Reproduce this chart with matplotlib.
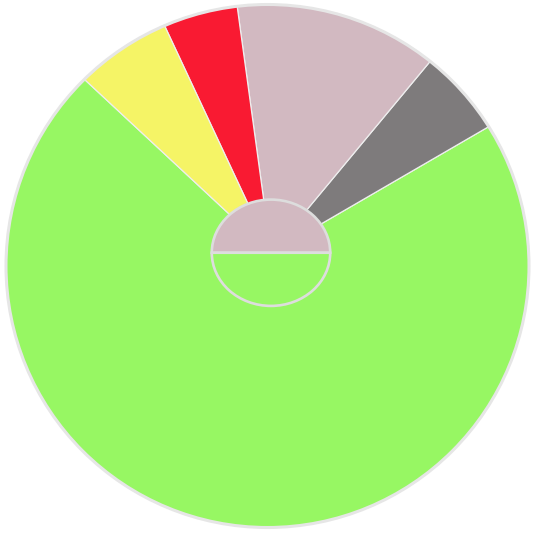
import matplotlib
matplotlib.use("Agg")
import matplotlib.pyplot as plt
from matplotlib.patches import Circle

# Outer ring: shares in percent, listed counter-clockwise starting at the green slice
outer_labels = ["green", "gray", "pink", "red", "yellow"]
outer_values = [70.3, 5.6, 13.2, 4.8, 6.1]
outer_colors = ["#97F763", "#7E7B7C", "#D2B9C1", "#F91A32", "#F5F466"]

# Inner disc: two halves
inner_labels = ["pink", "green"]
inner_values = [50, 50]
inner_colors = ["#D2B9C1", "#97F763"]

W, H = 534, 533
fig = plt.figure(figsize=(W / 100, H / 100), dpi=100)
fig.patch.set_facecolor("white")

ax = fig.add_axes([0, 0, 1, 1])
apex = (271, H - 253)
circ_c = (267.5, H - 266)
circ_r = 261.5

wedges, _ = ax.pie(outer_values, colors=outer_colors, startangle=137.05,
                   counterclock=True, center=apex, radius=320,
                   wedgeprops=dict(edgecolor="#EEEEEE", linewidth=0.9))
clip = Circle(circ_c, circ_r, transform=ax.transData)
for w in wedges:
    w.set_clip_on(True)
    w.set_clip_path(clip)
ax.add_patch(Circle(circ_c, circ_r, facecolor="none", edgecolor="#E6E6E6",
                    linewidth=2.2, zorder=5))
ax.set_xlim(0, W)
ax.set_ylim(0, H)
ax.set_aspect("auto")
ax.axis("off")

# Inner elliptical pie
x0, x1 = 210, 332
y0, y1 = 198, 307.5
ax2 = fig.add_axes([x0 / W, (H - y1) / H, (x1 - x0) / W, (y1 - y0) / H])
ax2.pie(inner_values, colors=inner_colors, startangle=0, counterclock=True,
        radius=1, wedgeprops=dict(edgecolor="#DDDDDD", linewidth=1.9))
ax2.set_xlim(-1.03, 1.03)
ax2.set_ylim(-1.03, 1.03)
ax2.set_aspect("auto")
ax2.patch.set_visible(False)
ax2.axis("off")

fig.savefig("out.png", dpi=100, facecolor="white")
